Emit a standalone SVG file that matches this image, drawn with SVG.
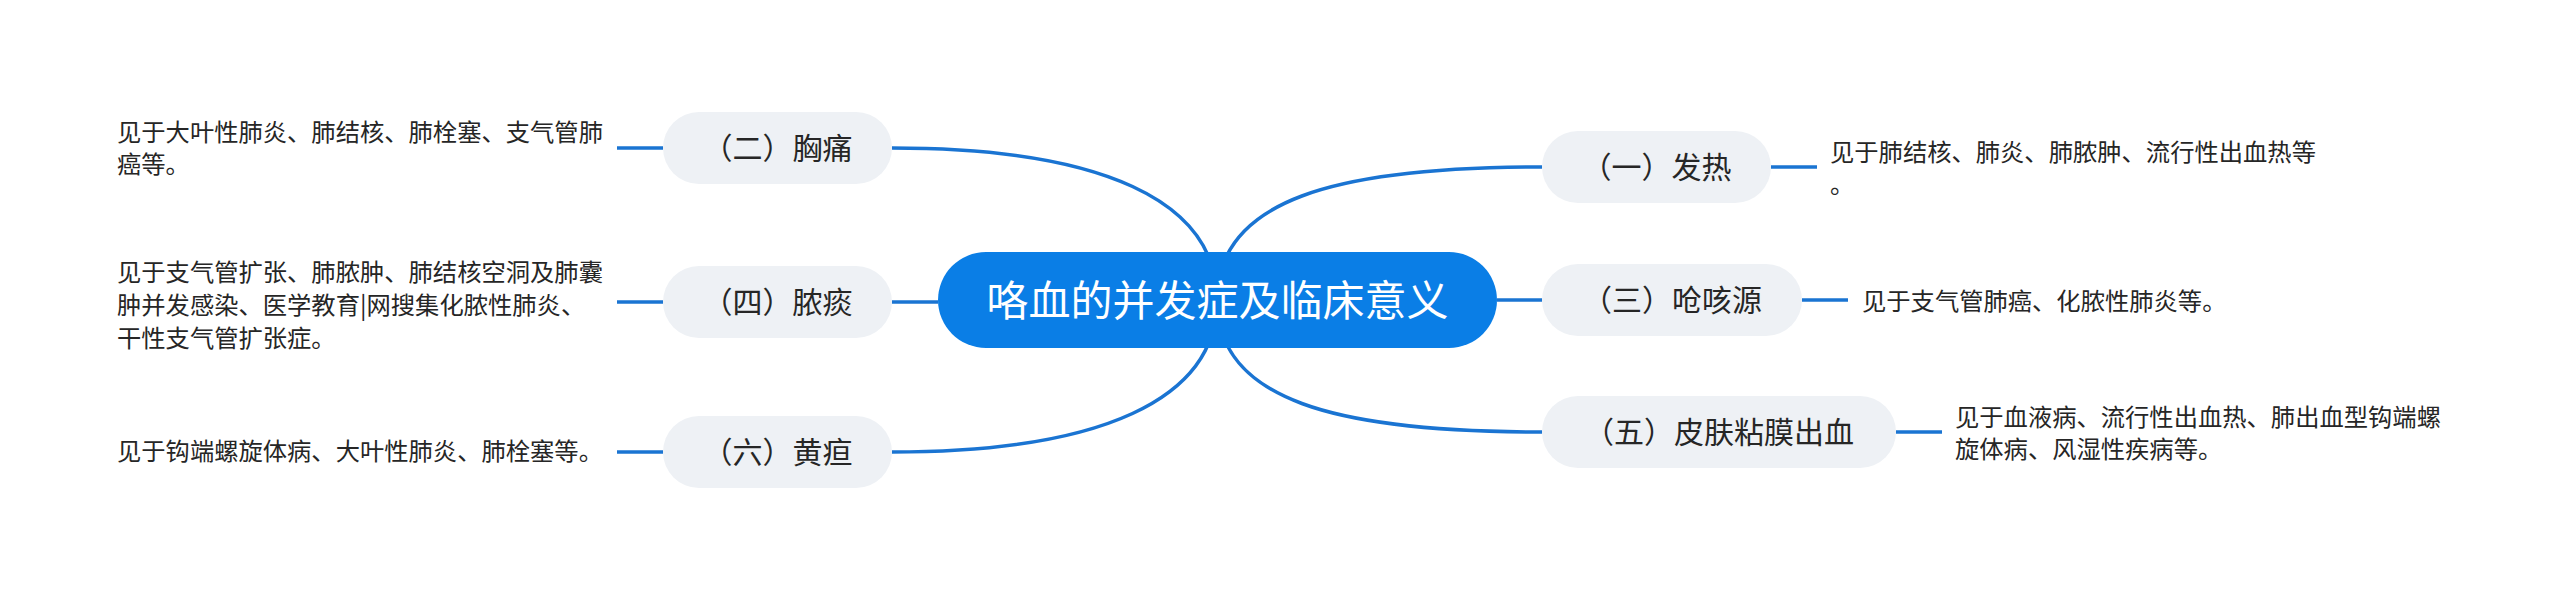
<svg xmlns="http://www.w3.org/2000/svg" width="2560" height="593" viewBox="0 0 2560 593">
<style>
.edge{fill:none;stroke:#1a74d2;stroke-width:3.5;stroke-linecap:butt}
.sub{fill:#eef1f5}
.root{fill:#0a7ee6}
.t{font-family:"Noto Sans CJK SC","Noto Sans",sans-serif;fill:#262626}
.st{font-size:30px;text-anchor:middle}
.lt{font-size:24.3px}
.rt{font-family:"Noto Sans CJK SC","Noto Sans",sans-serif;font-size:42px;fill:#ffffff;text-anchor:middle}
</style>
<rect width="2560" height="593" fill="#ffffff"/>
<g id="connectors">
<path class="edge" d="M1217 300 C1217 200 1100 148 892 148"/>
<path class="edge" d="M1217 300 C1217 400 1100 452 892 452"/>
<path class="edge" d="M938 302 L892 302"/>
<path class="edge" d="M1217 300 C1217 200 1335 167 1542 167"/>
<path class="edge" d="M1497 300 L1542 300"/>
<path class="edge" d="M1217 300 C1217 400 1335 432 1542 432"/>
<path class="edge" d="M663 148 L617 148"/>
<path class="edge" d="M663 302 L617 302"/>
<path class="edge" d="M663 452 L617 452"/>
<path class="edge" d="M1771 167 L1817 167"/>
<path class="edge" d="M1802 300 L1848 300"/>
<path class="edge" d="M1896 432 L1942 432"/>
</g>
<g id="root">
<rect class="root" x="938" y="252" width="559" height="96" rx="48"/>
<text class="rt" x="1217.5" y="316">咯血的并发症及临床意义</text>
</g>
<g id="n2">
<rect class="sub" x="663" y="112" width="229" height="72" rx="36"/>
<text class="t st" x="777.5" y="159">（二）胸痛</text>
</g>
<g id="n2d">
<text class="t lt" x="117" y="141">见于大叶性肺炎、肺结核、肺栓塞、支气管肺</text>
<text class="t lt" x="117" y="173">癌等。</text>
</g>
<g id="n4">
<rect class="sub" x="663" y="266" width="229" height="72" rx="36"/>
<text class="t st" x="777.5" y="313">（四）脓痰</text>
</g>
<g id="n4d">
<text class="t lt" x="117" y="281">见于支气管扩张、肺脓肿、肺结核空洞及肺囊</text>
<text class="t lt" x="117" y="314">肿并发感染、医学教育|网搜集化脓性肺炎、</text>
<text class="t lt" x="117" y="347">干性支气管扩张症。</text>
</g>
<g id="n6">
<rect class="sub" x="663" y="416" width="229" height="72" rx="36"/>
<text class="t st" x="777.5" y="463">（六）黄疸</text>
</g>
<g id="n6d">
<text class="t lt" x="117" y="460">见于钩端螺旋体病、大叶性肺炎、肺栓塞等。</text>
</g>
<g id="n1">
<rect class="sub" x="1542" y="131" width="229" height="72" rx="36"/>
<text class="t st" x="1656.5" y="178">（一）发热</text>
</g>
<g id="n1d">
<text class="t lt" x="1830" y="161">见于肺结核、肺炎、肺脓肿、流行性出血热等</text>
<text class="t lt" x="1830" y="193">。</text>
</g>
<g id="n3">
<rect class="sub" x="1542" y="264" width="260" height="72" rx="36"/>
<text class="t st" x="1672" y="311">（三）呛咳源</text>
</g>
<g id="n3d">
<text class="t lt" x="1862" y="310">见于支气管肺癌、化脓性肺炎等。</text>
</g>
<g id="n5">
<rect class="sub" x="1542" y="396" width="354" height="72" rx="36"/>
<text class="t st" x="1719" y="443">（五）皮肤粘膜出血</text>
</g>
<g id="n5d">
<text class="t lt" x="1955" y="426">见于血液病、流行性出血热、肺出血型钩端螺</text>
<text class="t lt" x="1955" y="458">旋体病、风湿性疾病等。</text>
</g>
</svg>
